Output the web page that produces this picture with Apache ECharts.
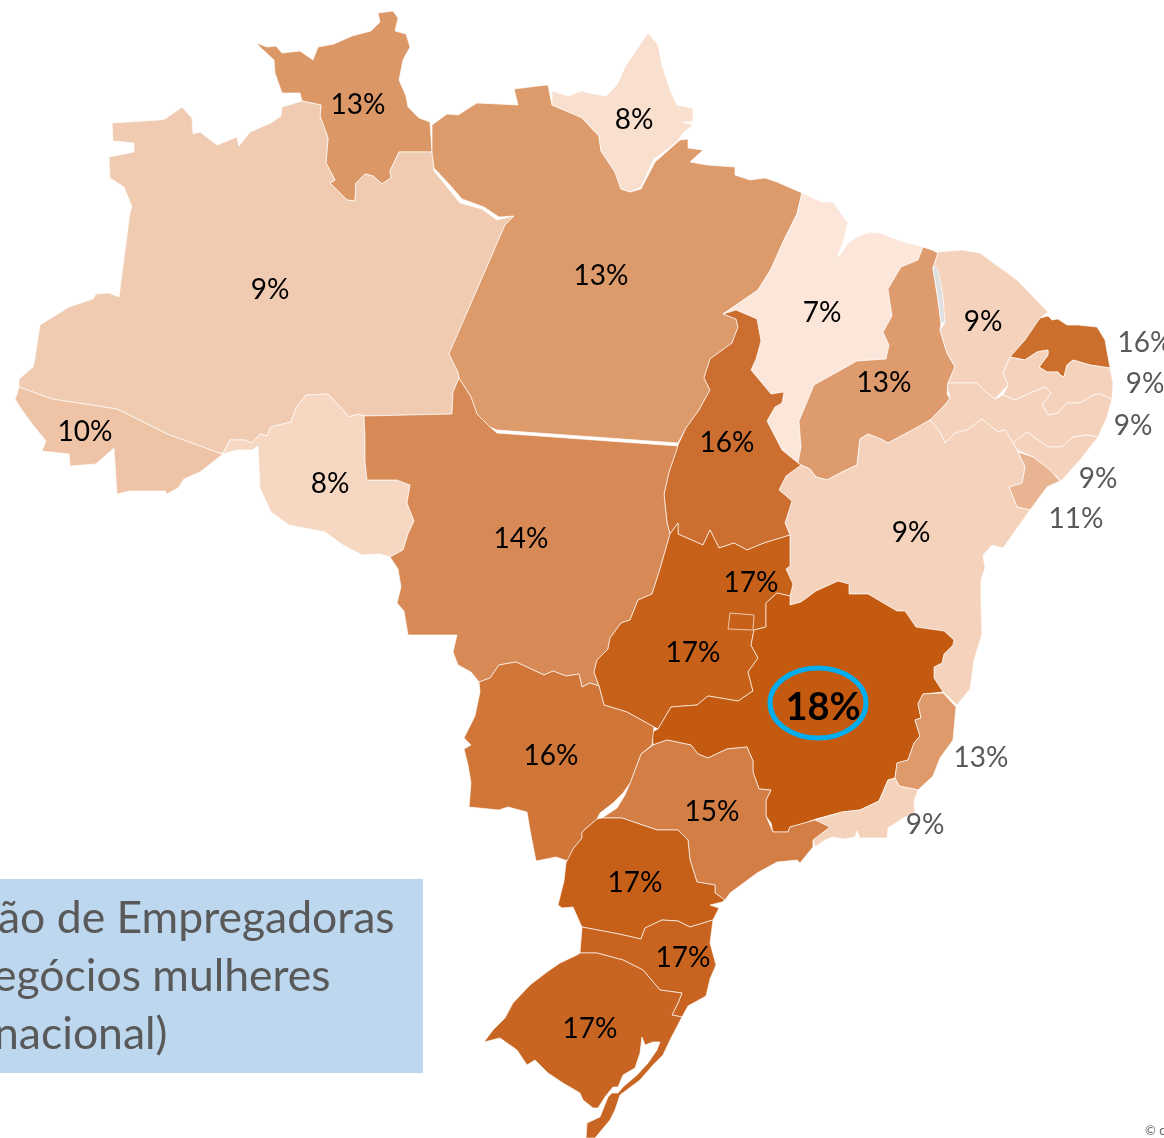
<!DOCTYPE html>
<html>
<head>
<meta charset="utf-8">
<title>Empregadoras por UF</title>
<script src="https://cdn.jsdelivr.net/npm/echarts@6/dist/echarts.min.js"></script>
<style>
  html, body { margin: 0; padding: 0; background: #fff; }
  #main { width: 1164px; height: 1138px; }
</style>
</head>
<body>
<div id="main"></div>
<script>
var states = ['RR','AM','AC','RO','PA','AP','MA','PI','CE','RN','PB','PE','AL','SE','BA','TO','MT','GO','DF','MG','ES','RJ','SP','MS','PR','SC','RS'];
var values = [13,9,10,8,13,8,7,13,9,16,9,9,9,11,9,16,14,17,17,18,13,9,15,16,17,17,17];
var titleLines = ['ão de Empregadoras', 'egócios mulheres', 'nacional)'];

// cor de cada UF
var shades = {
  RR:'#dc9767', AM:'#f0cbb1', AC:'#efc3a6', RO:'#f6d7c2', PA:'#dd9a6b', AP:'#f9dfce', MA:'#fbe6d9', PI:'#de9b6e',
  CE:'#f5d2bb', RN:'#cc6e2c', PB:'#f5d2bb', PE:'#f5d2bb', AL:'#f5d2bb', SE:'#e9b491', BA:'#f5d2bb', TO:'#cc6e2f',
  MT:'#d88a56', GO:'#c76119', DF:'#c76119', MG:'#c45a10', ES:'#df9a6b', RJ:'#f5d2bb', SP:'#d37e45', MS:'#d07638',
  PR:'#c65f18', SC:'#c86320', RS:'#c96522'
};

// onde fica o rotulo de cada UF (cinza = fora do mapa)
var labelAt = {
  RR:[358,105], AM:[270,290], AC:[85,432], RO:[330,484], PA:[601,276], AP:[634,120], MA:[822,313], PI:[884,383],
  CE:[983,322], RN:[1145,343], PB:[1145,384], PE:[1133,426], AL:[1098,479], SE:[1076,519], BA:[911,533], TO:[727,443],
  MT:[521,539], GO:[693,653], DF:[751,583], MG:[823,708], ES:[981,758], RJ:[925,825], SP:[712,812], MS:[551,756],
  PR:[635,883], SC:[683,958], RS:[590,1029]
};
var outside = ['RN','PB','PE','AL','SE','ES','RJ'];

// contornos das UFs, em pixels da imagem
var shapes = {
  AM:'112,123 160,120 165,119 182,107 192,118 193,134 200,132 217,145 237,137 239,146 250,132 271,123 281,116 282,107 302,101 321,105 320,116 328,138 326,163 335,180 330,183 347,200 355,201 356,183 365,174 373,176 382,184 391,178 390,171 399,152 432,152 434,171 447,187 460,203 482,209 497,220 514,216 505,225 449,354 458,372 459,378 453,392 452,414 364,416 358,414 349,417 343,410 328,394 306,395 296,408 291,422 271,427 267,436 260,434 252,443 245,440 230,440 223,453 219,453 167,434 117,409 52,399 19,387 19,379 33,367 35,358 40,325 69,307 93,299 96,294 109,293 119,297 130,212 132,207 124,187 110,178 109,157 134,152 134,143 113,141',
  RR:'256,43 267,47 276,46 282,53 300,51 313,60 318,47 334,44 352,36 371,31 380,22 378,13 393,11 398,18 395,31 406,34 410,47 403,60 399,80 406,96 408,107 419,118 430,122 432,152 399,152 390,171 391,178 382,184 373,176 365,174 356,183 355,201 347,200 330,183 335,180 326,163 328,138 320,116 321,105 302,101 300,93 282,93 275,73 274,60 260,47',
  AC:'19,387 52,399 117,409 167,434 219,453 223,454 200,472 184,479 178,488 167,494 165,491 130,491 117,494 114,448 96,464 70,466 69,454 42,451 46,441 33,425 22,410 15,399 17,394',
  RO:'223,454 230,440 245,440 252,443 260,434 267,436 271,427 291,422 296,408 306,395 328,394 343,410 349,417 358,414 364,416 365,436 365,461 367,480 397,480 410,485 407,503 414,521 408,534 403,550 390,557 380,554 362,555 343,545 325,532 289,525 271,512 260,488 258,446 252,450 237,450',
  MT:'364,416 452,414 453,392 459,378 471,397 477,414 490,427 497,433 678,446 669,472 664,494 667,523 670,534 660,569 652,594 638,600 630,620 621,623 610,638 608,649 597,660 594,672 599,686 590,683 582,687 579,674 566,676 553,671 544,675 516,662 499,665 490,678 479,682 471,672 458,665 453,652 457,635 408,635 404,611 397,603 401,587 398,569 390,557 403,550 408,534 414,521 407,503 410,485 397,480 367,480 365,461 365,436',
  PA:'432,125 447,114 458,115 477,103 518,105 514,89 538,86 548,85 552,105 579,116 582,118 599,136 601,151 615,172 621,189 630,192 641,189 655,162 680,140 688,139 688,148 703,150 690,162 707,165 735,167 735,175 750,180 765,178 777,182 802,193 797,214 784,240 771,269 758,290 723,314 736,319 738,327 732,343 710,359 704,378 710,390 699,410 686,428 678,443 497,430 490,427 477,414 471,397 459,378 458,372 449,354 505,225 514,216 499,217 484,207 462,199 449,184 434,168 432,152',
  AP:'552,91 568,96 582,91 593,94 606,96 617,85 625,67 648,33 658,45 662,65 670,90 677,105 693,108 693,122 683,122 693,125 683,133 677,142 654,159 641,187 630,192 621,189 615,172 601,151 599,136 582,118 552,105',
  MA:'802,193 822,202 833,202 848,223 843,242 837,257 840,255 848,243 857,237 870,232 880,233 901,241 923,247 918,260 901,267 888,289 892,316 883,332 889,345 886,359 857,361 814,385 799,421 801,447 798,463 782,450 767,421 775,407 782,403 784,392 771,394 751,370 756,359 761,341 757,319 736,310 723,314 758,290 771,269 784,240 797,214',
  TO:'723,314 736,310 757,319 761,341 756,359 751,370 771,394 784,392 782,403 775,407 767,421 782,450 798,463 801,465 786,476 779,490 792,501 785,523 790,535 764,543 747,550 734,543 719,548 710,530 703,545 678,534 678,523 670,534 667,523 664,494 669,472 678,445 686,428 699,410 710,390 704,378 710,359 732,343 738,327 736,319',
  GO:'670,534 678,523 678,534 703,545 710,530 719,548 734,543 747,550 764,543 790,535 790,566 786,569 793,584 790,596 777,593 766,603 766,627 754,630 751,645 758,658 748,672 753,691 738,701 708,696 697,705 671,707 658,729 654,727 627,712 604,705 599,686 594,672 597,660 608,649 610,638 621,623 630,620 638,600 652,594 660,569',
  DF:'730,613 754,615 753,630 728,629',
  MG:'790,605 801,602 816,591 838,581 849,584 849,594 868,594 897,611 905,611 916,627 944,631 954,640 953,645 944,654 942,663 934,667 934,678 943,692 923,694 918,704 921,718 915,720 920,736 914,743 908,760 897,763 895,778 888,780 879,801 860,810 842,812 816,819 805,823 790,827 788,832 773,832 771,823 766,816 766,800 771,790 759,789 753,772 753,761 747,747 727,749 708,758 698,754 691,745 667,740 653,745 652,732 658,729 671,707 697,705 708,696 738,701 753,691 748,672 758,658 751,645 754,630 766,627 766,603 777,593 790,596',
  BA:'801,465 810,469 816,477 827,480 842,472 857,465 860,439 868,434 881,439 888,443 916,428 930,420 940,432 945,443 955,433 967,430 982,419 998,432 1005,430 1013,443 1017,450 1025,467 1022,483 1009,487 1017,507 1030,510 1003,548 992,545 983,555 985,568 981,580 981,603 982,634 974,660 970,689 957,705 943,692 934,678 934,667 942,663 944,654 953,645 954,640 944,631 916,627 905,611 897,611 868,594 849,594 849,584 838,581 816,591 801,602 790,605 790,596 793,584 786,569 790,566 790,535 785,523 792,501 779,490 786,476',
  ES:'943,693 956,707 953,740 940,758 933,776 918,790 899,786 895,778 897,763 908,760 914,743 920,736 915,720 921,718 918,704 923,694',
  RJ:'895,778 899,786 918,790 914,801 915,812 900,820 888,828 887,838 860,838 857,831 855,837 843,839 833,837 825,840 815,847 813,840 830,827 815,820 842,812 860,810 879,801 888,780',
  SP:'653,745 667,740 691,745 698,754 708,758 727,749 747,747 753,761 753,772 759,789 771,790 766,800 766,816 773,832 788,832 790,827 815,820 830,827 813,840 813,847 800,863 797,860 777,862 757,873 730,893 725,900 715,893 715,885 697,882 690,860 688,840 678,830 657,830 622,818 602,818 617,808 625,795 630,783 641,754',
  MS:'479,682 490,678 499,665 516,662 544,675 553,671 566,676 579,674 582,687 590,683 599,686 604,705 627,712 654,727 652,745 641,754 630,783 623,793 613,803 600,813 597,819 582,832 582,838 573,849 568,861 556,857 536,861 530,830 527,812 508,807 499,810 469,807 471,783 468,765 464,749 471,745 464,738 475,716 480,692',
  PR:'597,819 602,818 622,818 657,830 678,830 688,840 690,860 697,882 715,885 715,893 725,900 722,902 710,905 719,908 713,920 690,927 678,921 662,920 645,928 641,939 619,934 582,927 581,925 573,907 562,908 558,905 564,881 566,863 573,849 582,838 582,832',
  SC:'582,927 619,934 641,939 645,928 662,920 678,921 690,927 713,920 710,943 716,965 710,979 706,996 688,1006 682,1017 672,1015 678,1003 682,993 660,990 643,970 623,960 597,953 580,953 581,952',
  RS:'580,953 597,953 623,960 643,970 660,990 682,993 678,1003 672,1015 682,1017 670,1040 663,1055 653,1065 640,1080 620,1095 615,1110 610,1120 595,1138 586,1138 587,1123 600,1117 608,1097 612,1093 618,1093 623,1087 637,1075 648,1063 657,1050 660,1042 653,1042 645,1045 642,1037 640,1053 635,1068 623,1075 618,1087 613,1087 605,1097 598,1108 593,1108 583,1100 580,1093 563,1083 548,1073 535,1060 527,1065 517,1050 500,1038 484,1042 493,1030 505,1018 513,1003 530,985 547,972 560,963 577,955',
  CE:'938,252 962,250 980,253 1017,280 1048,312 1040,318 1025,340 1010,357 1003,373 1008,385 995,399 987,393 977,383 948,383 955,367 947,353 940,330 945,323 940,295 933,268',
  PI:'923,247 932,250 938,253 933,268 938,300 941,323 940,330 947,353 955,367 948,383 947,394 950,399 940,410 930,420 916,428 888,443 881,439 868,434 860,439 857,465 842,472 827,480 816,477 810,469 801,465 798,463 801,447 799,421 814,385 857,361 886,359 889,345 883,332 892,316 888,289 901,267 918,260',
  RN:'1010,357 1025,340 1040,318 1048,316 1052,320 1058,319 1067,325 1078,325 1097,327 1105,340 1110,368 1090,365 1073,360 1067,365 1064,377 1060,375 1058,372 1047,372 1039,367 1048,355 1048,350 1037,352 1025,360',
  PB:'1010,357 1025,360 1037,352 1048,350 1048,355 1039,367 1047,372 1058,372 1060,375 1064,377 1067,365 1073,360 1090,365 1110,368 1113,383 1112,399 1100,394 1093,395 1080,403 1067,403 1058,413 1048,415 1042,405 1051,393 1045,387 1030,393 1015,400 1003,395 1008,385 1003,373',
  PE:'948,383 977,383 987,393 995,399 1003,395 1015,400 1030,393 1045,387 1051,393 1042,405 1048,415 1058,413 1067,403 1080,403 1093,395 1100,394 1112,399 1107,417 1098,437 1087,435 1073,437 1062,447 1048,447 1027,432 1013,443 1005,430 998,432 982,419 967,430 955,433 945,443 940,432 930,420 947,403 950,397 947,387',
  AL:'1013,443 1027,432 1048,447 1062,447 1073,437 1087,435 1098,437 1080,460 1061,481 1050,470 1033,457 1017,450',
  SE:'1018,452 1033,457 1050,470 1060,481 1047,487 1030,510 1017,507 1009,487 1022,483 1025,467'
};
// faixa em litigio entre PI e CE, sem valor
var disputed = '934,266 938,270 941,285 943,296 945,323 941,323 938,300 933,268';

function ring(text) {
  var pts = text.split(' ').map(function (p) { return p.split(',').map(Number); });
  pts.push(pts[0]);
  return [pts];
}

var features = [];
states.forEach(function (uf) {
  features.push({ type: 'Feature', properties: { name: uf, cp: labelAt[uf] }, geometry: { type: 'Polygon', coordinates: ring(shapes[uf]) } });
});
features.push({ type: 'Feature', properties: { name: 'litigio', cp: [940, 295] }, geometry: { type: 'Polygon', coordinates: ring(disputed) } });
// DF por cima de GO
features.sort(function (a, b) { return (a.properties.name === 'DF') - (b.properties.name === 'DF'); });

echarts.registerMap('brasil', { type: 'FeatureCollection', features: features });

var regions = [];
for (var i = 0; i < states.length; i++) {
  var uf = states[i];
  var lbl = { show: true, formatter: values[i] + '%', color: outside.indexOf(uf) >= 0 ? '#595959' : '#000' };
  if (uf === 'MG') { lbl.fontSize = 38; lbl.fontWeight = 'bold'; }
  regions.push({ name: uf, itemStyle: { areaColor: shades[uf] }, label: lbl });
}
regions.push({ name: 'litigio', itemStyle: { areaColor: '#dfdfdf' }, label: { show: false } });

var option = {
  animation: false,
  backgroundColor: '#fff',
  geo: {
    map: 'brasil',
    projection: {
      project: function (p) { return p; },
      unproject: function (p) { return p; }
    },
    boundingCoords: [[0, 0], [1164, 1138]],
    left: 0,
    top: 0,
    width: 1164,
    height: 1138,
    silent: true,
    label: { show: true, fontFamily: 'Lato', fontSize: 28 },
    itemStyle: { borderColor: 'rgba(255,255,255,0.65)', borderWidth: 1 },
    regions: regions
  },
  graphic: [
    { type: 'rect', shape: { x: 0, y: 879, width: 423, height: 194 }, style: { fill: '#bdd7ee' } },
    { type: 'text', x: -2, y: 919, style: { text: titleLines[0], font: '44.5px Lato', fill: '#595959', verticalAlign: 'middle' } },
    { type: 'text', x: -7, y: 977, style: { text: titleLines[1], font: '44.5px Lato', fill: '#595959', verticalAlign: 'middle' } },
    { type: 'text', x: -6, y: 1035, style: { text: titleLines[2], font: '44.5px Lato', fill: '#595959', verticalAlign: 'middle' } },
    { type: 'ellipse', shape: { cx: 818, cy: 703, rx: 48, ry: 35 }, style: { fill: null, stroke: '#00aeef', lineWidth: 5 }, z: 10 },
    { type: 'text', x: 1145, y: 1131, style: { text: '© c', font: '13px Lato', fill: '#666', verticalAlign: 'middle' } }
  ]
};

var chart = echarts.init(document.getElementById('main'));
chart.setOption(option);
</script>
</body>
</html>
